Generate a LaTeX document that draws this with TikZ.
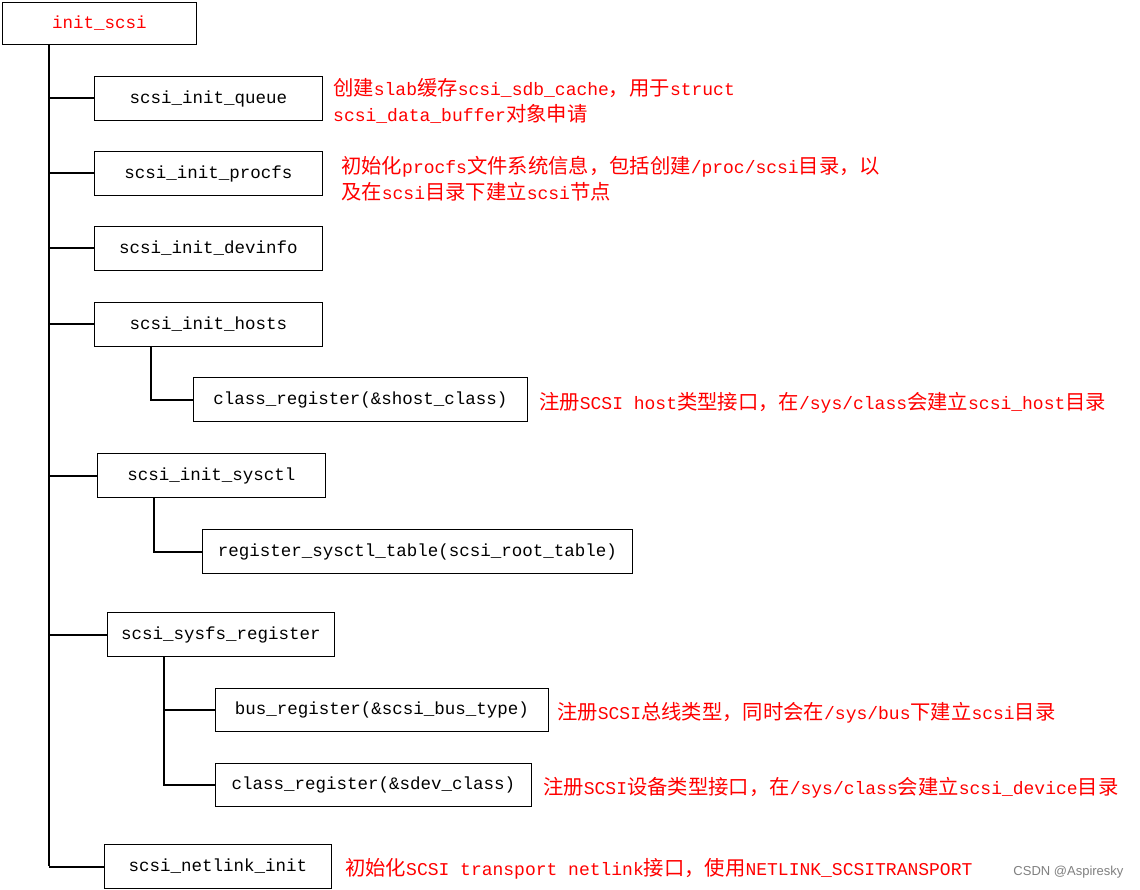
\documentclass[tikz,border=0pt]{standalone}
\usepackage{fontspec}
\setmainfont{Liberation Mono}
\newfontfamily\cjk[Scale=1.13]{Noto Sans CJK SC}
\newfontfamily\sansf{Liberation Sans}
\newcommand{\zh}[1]{{\cjk #1}}
\begin{document}
\begin{tikzpicture}[x=1pt,y=-1pt,
  box/.style={draw,line width=1pt,anchor=north west,inner sep=0pt},
  lbl/.style={font=\fontsize{17.5}{17.5}\selectfont},
  note/.style={anchor=west,text=red,inner sep=0pt,font=\fontsize{18}{26}\selectfont,align=left},
  ln/.style={line width=2pt}]
\useasboundingbox (0,0) rectangle (1140,890);
\fill[white] (0,0) rectangle (1140,890);
\newcommand{\bx}[5]{\node[box,minimum width={#4-#2},minimum height={#5-#3}] (#1) at (#2,#3) {};}
\bx{root}{2}{2}{196}{44}
\node[lbl,text=red] at (root.center) {init\_scsi};
\bx{q}{94}{76}{322}{120}\node[lbl] at (q.center) {scsi\_init\_queue};
\bx{p}{94}{151}{322}{195}\node[lbl] at (p.center) {scsi\_init\_procfs};
\bx{d}{94}{226}{322}{270}\node[lbl] at (d.center) {scsi\_init\_devinfo};
\bx{h}{94}{302}{322}{346}\node[lbl] at (h.center) {scsi\_init\_hosts};
\bx{hc}{193}{377}{527}{421}\node[lbl] at (hc.center) {class\_register(\&shost\_class)};
\bx{s}{97}{453}{325}{497}\node[lbl] at (s.center) {scsi\_init\_sysctl};
\bx{st}{202}{529}{632}{573}\node[lbl] at (st.center) {register\_sysctl\_table(scsi\_root\_table)};
\bx{f}{107}{612}{334}{656}\node[lbl] at (f.center) {scsi\_sysfs\_register};
\bx{fb}{215}{688}{548}{731}\node[lbl] at (fb.center) {bus\_register(\&scsi\_bus\_type)};
\bx{fc}{215}{763}{531}{806}\node[lbl] at (fc.center) {class\_register(\&sdev\_class)};
\bx{n}{104}{844}{331}{888}\node[lbl] at (n.center) {scsi\_netlink\_init};
% connectors
\coordinate (m0) at (49,44);
\coordinate (m1) at (49,866);
\draw[ln] (m0) -- (m1);
\foreach \b in {q,p,d,h,s,f,n} {\draw[ln] (\b.west -| m0) -- (\b.west);}
\coordinate (h0) at (151,346);
\draw[ln] (h0) |- (hc.west);
\coordinate (s0) at (154,497);
\draw[ln] (s0) |- (st.west);
\coordinate (f0) at (164,656);
\draw[ln] (f0) |- (fc.west);
\draw[ln] (fb.west -| f0) -- (fb.west);
% notes
\node[note] (t1) at (333,101) {\zh{创建}slab\zh{缓存}scsi\_sdb\_cache\zh{，用于}struct\\scsi\_data\_buffer\zh{对象申请}};
\node[note] (t2) at (341,179) {\zh{初始化}procfs\zh{文件系统信息，包括创建}/proc/scsi\zh{目录，以}\\\zh{及在}scsi\zh{目录下建立}scsi\zh{节点}};
\node[note] (t3) at (539,403) {\zh{注册}SCSI host\zh{类型接口，在}/sys/class\zh{会建立}scsi\_host\zh{目录}};
\node[note] (t4) at (557,713) {\zh{注册}SCSI\zh{总线类型，同时会在}/sys/bus\zh{下建立}scsi\zh{目录}};
\node[note] (t5) at (543,788) {\zh{注册}SCSI\zh{设备类型接口，在}/sys/class\zh{会建立}scsi\_device\zh{目录}};
\node[note] (t6) at (345,869) {\zh{初始化}SCSI transport netlink\zh{接口，使用}NETLINK\_SCSITRANSPORT};
\node[anchor=east,text=gray,font=\sansf\fontsize{13}{13}\selectfont] (wm) at (1127,872) {CSDN @Aspiresky};
\end{tikzpicture}
\end{document}
